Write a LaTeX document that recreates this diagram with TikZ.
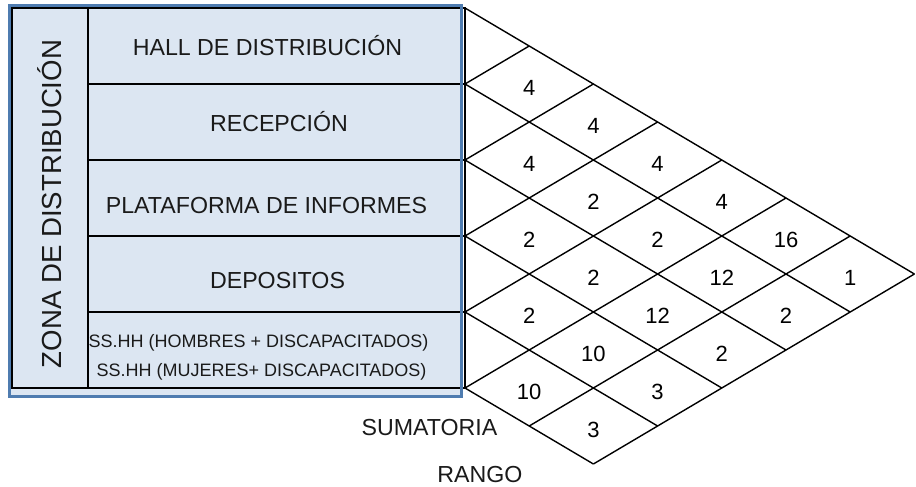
\documentclass[tikz,border=0pt]{standalone}
\usepackage{fontspec}
\setmainfont{Liberation Sans}
\definecolor{zonefill}{HTML}{DCE6F2}
\definecolor{zoneblue}{HTML}{4F7CB0}
\definecolor{textgray}{HTML}{1A1A1A}

\begin{document}
\begin{tikzpicture}[
    x=0.5pt, y=-0.5pt,
    line/.style={draw=black, line width=0.7pt},
    label/.style={font=\fontsize{11.6}{13}\selectfont, text=textgray, inner sep=0pt, anchor=base},
    small/.style={label, font=\fontsize{9}{11}\selectfont},
    value/.style={font=\fontsize{11}{12}\selectfont, inner sep=0pt, anchor=base},
]
    \useasboundingbox (0,0) rectangle (916,487);

    % Table
    \fill[zonefill] (9.5,5.5) rectangle (461.5,396);
    \draw[line] (12,8) rectangle (465,388);
    \draw[line] (88,8) -- (88,388);
    \foreach \r in {84,160,236,312}
        \draw[line] (88,\r) -- (465,\r);
    \draw[zoneblue, line width=1.5pt] (9.5,5.5) rectangle (461.5,396);

    % Labels
    \node[label, font=\fontsize{13.8}{15}\selectfont, rotate=90] (zona) at (61.5,204) {ZONA DE DISTRIBUCIÓN};
    \node[label] (hall) at (267.5,55) {HALL DE DISTRIBUCIÓN};
    \node[label] (recepcion) at (279,131.5) {RECEPCIÓN};
    \node[label] (plataforma) at (266.5,213) {PLATAFORMA DE INFORMES};
    \node[label] (depositos) at (277.5,288) {DEPOSITOS};
    \node[small] (hombres) at (258.5,347) {SS.HH (HOMBRES + DISCAPACITADOS)};
    \node[small] (mujeres) at (261.5,376) {SS.HH (MUJERES+ DISCAPACITADOS)};
    \node[label] (sumatoria) at (429.5,435) {SUMATORIA};
    \node[label] (rango) at (480,482) {RANGO};

    % Lattice
    \coordinate (corner) at (465,8);
    \begin{scope}[shift={(corner)}, x={(32.1pt,0pt)}, y={(0pt,-19pt)}]
        \draw[line] (0,0) -- (0,10);
        \foreach \k in {0,...,5}
            \draw[line] (0,2*\k) -- ({7-\k},{7+\k});
        \foreach \k in {1,...,5}
            \draw[line] (0,2*\k) -- (\k,\k);
        \draw[line] (1,11) -- (6,6);
        \draw[line] (2,12) -- (7,7);
        \foreach \a/\b/\v [count=\i] in {1/2/4, 2/3/4, 1/4/4, 3/4/4, 2/5/2, 4/5/4,
                1/6/2, 3/6/2, 5/6/16, 2/7/2, 4/7/12, 6/7/1, 1/8/2, 3/8/12, 5/8/2,
                2/9/10, 4/9/2, 1/10/10, 3/10/3, 2/11/3}
            \node[value] (v\i) at (\a,\b+0.3) {\v};
    \end{scope}
\end{tikzpicture}
\end{document}
